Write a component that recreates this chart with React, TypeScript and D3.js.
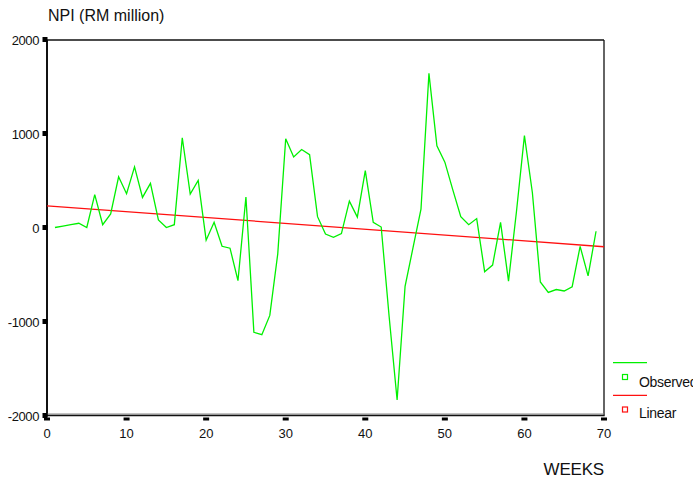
import React from 'react'
import { scaleLinear, line } from 'd3'

// weekly net portfolio investment, RM million (weeks 1..69)
const weeks = [
  1, 2, 3, 4, 5, 6, 7, 8, 9, 10, 11, 12, 13, 14, 15, 16, 17, 18, 19, 20, 21, 22, 23,
  24, 25, 26, 27, 28, 29, 30, 31, 32, 33, 34, 35, 36, 37, 38, 39, 40, 41, 42, 43, 44, 45, 46,
  47, 48, 49, 50, 51, 52, 53, 54, 55, 56, 57, 58, 59, 60, 61, 62, 63, 64, 65, 66, 67, 68, 69,
]
const observed = [
  0, 15, 30, 45, 0, 350, 30, 145, 540, 360, 645, 320, 470, 80, 0, 30, 955, 355, 500, -135, 55, -200, -220,
  -565, 325, -1115, -1140, -935, -280, 945, 750, 830, 775, 115, -70, -105, -65, 280, 110, 605, 55, 5, -950,
  -1835, -625, -215, 195, 1640, 870, 695, 400, 115, 30, 95, -470, -400, 55, -570, 170, 978, 370, -580, -690,
  -660, -675, -630, -200, -515, -40,
]
// fitted linear trend, read at the two ends of the axis
const linearWeeks = [0, 70]
const linearValues = [230, -205]

const yTicks = [2000, 1000, 0, -1000, -2000]
const xTicks = [0, 10, 20, 30, 40, 50, 60, 70]

export default function App() {
  const width = 693,
    height = 478
  const left = 47,
    right = 604,
    top = 39.5,
    bottom = 415.5

  const x = scaleLinear().domain([0, 70]).range([left, right])
  const y = scaleLinear().domain([-2000, 2000]).range([bottom, top])

  const pts: [number, number][] = weeks.map((w, i) => [x(w), y(observed[i])])
  const fitPts: [number, number][] = linearWeeks.map((w, i) => [x(w), y(linearValues[i])])
  const lineGen = line()

  const font = '"Liberation Sans", Arial, Helvetica, sans-serif'
  const green = '#00f000'
  const red = '#ff1010'

  return (
    <svg
      width={width}
      height={height}
      style={{ position: 'absolute', left: 0, top: 0, background: '#fff' }}
      fontFamily={font}
    >
      <text x={48} y={21} fontSize={16} fill="#111">NPI (RM million)</text>

      {/* frame */}
      <line x1={left} x2={right} y1={40} y2={40} stroke="#111" strokeWidth={1.3} />
      <line x1={right} x2={right} y1={40} y2={bottom} stroke="#111" strokeWidth={1.3} />
      <line x1={left} x2={left} y1={40} y2={bottom + 1} stroke="#111" strokeWidth={2} />
      <line x1={left} x2={right} y1={414} y2={414} stroke="#888" strokeWidth={1.2} />
      <line x1={left} x2={right + 0.6} y1={415.5} y2={415.5} stroke="#111" strokeWidth={1.6} />

      {yTicks.map(t => (
        <g key={t}>
          <rect x={42.5} y={y(t) - 2.5} width={5} height={5} fill="#000" />
          <text x={39} y={y(t) + 5} fontSize={13} textAnchor="end" fill="#111" letterSpacing={-0.4}>
            {t}
          </text>
        </g>
      ))}

      {xTicks.map(t => (
        <g key={t}>
          <rect x={x(t) - 3} y={417.5} width={6} height={3} fill="#000" />
          <text x={x(t)} y={438} fontSize={13} textAnchor="middle" fill="#111">
            {t}
          </text>
        </g>
      ))}

      <text x={604} y={475} fontSize={17} textAnchor="end" fill="#111" letterSpacing={-0.2}>WEEKS</text>

      <path d={lineGen(fitPts) || ''} fill="none" stroke={red} strokeWidth={1.3} />
      <path d={lineGen(pts) || ''} fill="none" stroke={green} strokeWidth={1.3} strokeLinejoin="miter" />

      {/* legend */}
      <line x1={613} x2={647} y1={362.7} y2={362.7} stroke={green} strokeWidth={1.3} />
      <rect x={622.5} y={374.5} width={5} height={5} fill="none" stroke={green} strokeWidth={1.2} />
      <text x={639} y={386.5} fontSize={14} fill="#111" letterSpacing={-0.3}>Observed</text>
      <line x1={613} x2={647} y1={395.3} y2={395.3} stroke={red} strokeWidth={1.3} />
      <rect x={622.5} y={407} width={5} height={5} fill="none" stroke={red} strokeWidth={1.2} />
      <text x={639} y={418} fontSize={14} fill="#111" letterSpacing={-0.3}>Linear</text>
    </svg>
  )
}
